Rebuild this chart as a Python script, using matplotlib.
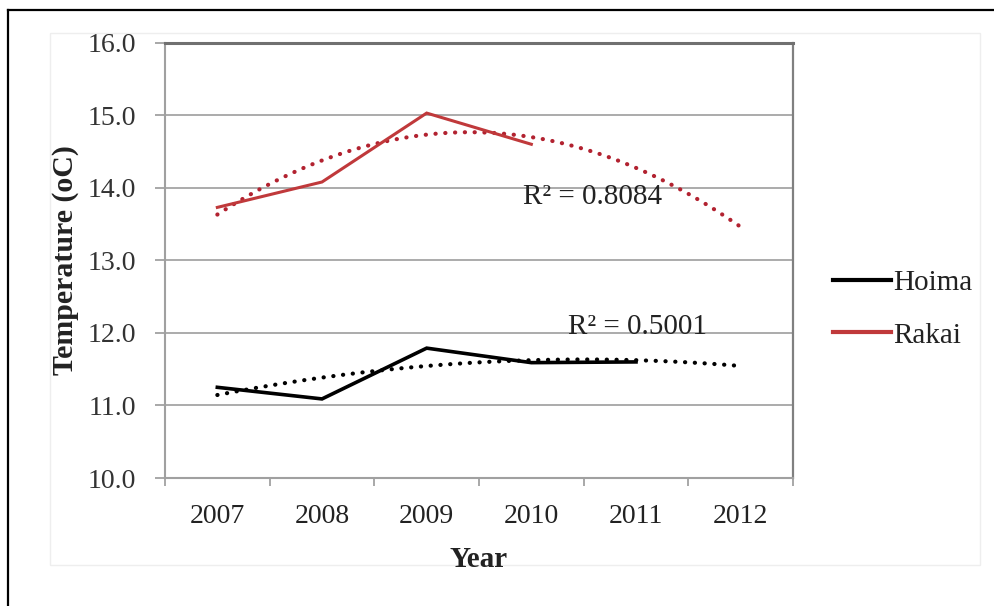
import numpy as np
import matplotlib
matplotlib.use("Agg")
import matplotlib.pyplot as plt
from matplotlib.lines import Line2D
from matplotlib.patches import Rectangle

# ---- data ----
years = ["2007", "2008", "2009", "2010", "2011", "2012"]
hoima = [11.25, 11.09, 11.79, 11.59, 11.60]
rakai = [13.73, 14.08, 15.03, 14.60]
r2_hoima = "R\u00b2 = 0.5001"
r2_rakai = "R\u00b2 = 0.8084"
yticks = [10.0, 11.0, 12.0, 13.0, 14.0, 15.0, 16.0]

plt.rcParams['font.family'] = ['Liberation Serif', 'DejaVu Serif']
FS = 20

fig = plt.figure(figsize=(9.95, 6.06), dpi=100)
W, H = 995, 606
ax = fig.add_axes([165 / W, 1 - 478 / H, (793 - 165) / W, (478 - 42.7) / H])

xpos = np.arange(len(years))

# polynomial (order 2) trendlines, Excel-style (x = 1..n), extended to last category
def trend(vals, n_total):
    x = np.arange(1, len(vals) + 1)
    c = np.polyfit(x, vals, 2)
    xf = np.linspace(1, n_total, 300)
    return xf - 1, np.polyval(c, xf)

dots = (0, (0.05, 2.3))
tx, ty = trend(hoima, len(years))
ax.plot(tx, ty, color='black', lw=3.0, linestyle=dots,
        dash_capstyle='round', zorder=3)
tx, ty = trend(rakai, len(years))
ax.plot(tx, ty, color='#B22230', lw=3.0, linestyle=dots,
        dash_capstyle='round', zorder=3)

ax.plot(xpos[:len(hoima)], hoima, color='black', lw=2.6, label='Hoima',
        solid_joinstyle='miter', zorder=4)
ax.plot(xpos[:len(rakai)], rakai, color='#C0393B', lw=2.2, label='Rakai',
        solid_joinstyle='miter', zorder=4)

ax.text(2.92, 13.87, r2_rakai, fontsize=21, va='center', ha='left', color='#222222')
ax.text(3.35, 12.08, r2_hoima, fontsize=21, va='center', ha='left', color='#222222')

ax.set_xlim(-0.5, len(years) - 0.5)
ax.set_ylim(10, 16)
ax.set_yticks(yticks)
ax.set_yticklabels([f"{v:.1f}" for v in yticks])
ax.set_xticks(xpos)
ax.set_xticklabels(years)
ax.set_xticks(np.arange(-0.5, len(years) + 0.5, 1), minor=True)
ax.tick_params(axis='x', which='major', length=0, pad=19, labelsize=FS, labelcolor='#222222')
ax.tick_params(axis='x', which='minor', length=6, color='#999999', width=1.2, direction='out')
ax.tick_params(axis='y', length=7, color='#999999', width=1.2, pad=14, labelsize=FS, labelcolor='#333333')

ax.grid(axis='y', color='#ABABAB', lw=1.4)
ax.set_axisbelow(True)
for s in ['left', 'bottom']:
    ax.spines[s].set_color('#A0A0A0')
    ax.spines[s].set_linewidth(1.5)
ax.spines['top'].set_color('#707070')
ax.spines['top'].set_linewidth(2.2)
ax.spines['right'].set_color('#808080')
ax.spines['right'].set_linewidth(1.6)

ax.set_xlabel("Year", fontsize=21, fontweight='bold', labelpad=12, color='#222222')
ax.set_ylabel("Temperature (oC)", fontsize=21.5, fontweight='bold', labelpad=6, color='#222222')

leg = ax.legend(loc='center left', frameon=False, fontsize=21, handlelength=2.0,
                handletextpad=0.05, labelspacing=0.9, borderaxespad=0, borderpad=0)
leg.set_bbox_to_anchor((833 / W, 1 - 309 / H), transform=fig.transFigure)
for t in leg.get_texts():
    t.set_color('#222222')
for h in leg.legend_handles:
    h.set_linewidth(3.0)

# faint chart-area outline and outer frame
fig.add_artist(Rectangle((50 / W, 1 - 565 / H), 930 / W, 532 / H, transform=fig.transFigure,
                         fill=False, edgecolor='#EEEEEE', lw=1, zorder=0))
fig.add_artist(Line2D([8 / W, 8 / W], [0, 1 - 10 / H], transform=fig.transFigure,
                      color='black', lw=1.6))
fig.add_artist(Line2D([8 / W, 1], [1 - 10 / H, 1 - 10 / H], transform=fig.transFigure,
                      color='black', lw=1.6))

fig.savefig("out.png", dpi=100)
